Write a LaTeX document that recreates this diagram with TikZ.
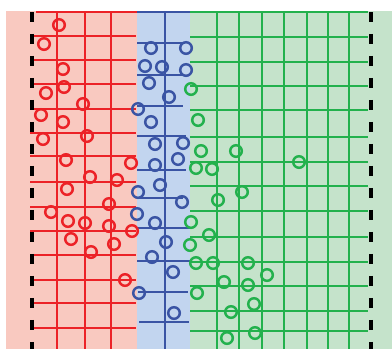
\documentclass[tikz,border=0pt]{standalone}
\usepackage{xcolor}
\usepackage{tikz}
\definecolor{redfill}{HTML}{F9C9C0}
\definecolor{redline}{HTML}{EC2227}
\definecolor{bluefill}{HTML}{C2D5EF}
\definecolor{blueline}{HTML}{3A54A4}
\definecolor{greenfill}{HTML}{C5E3CB}
\definecolor{greenline}{HTML}{23B14D}

\begin{document}
\begin{tikzpicture}[
        x=0.02cm, y=-0.02cm,
        grid/.style={line width=0.85pt},
        topline/.style={line width=1.6pt},
        ring/.style={line width=1.4pt},
        border/.style={line width=2pt, black, dash pattern=on 0.2cm off 0.24cm}
      ]
        \useasboundingbox (0,0) rectangle (392,349);
        % regions
        \fill[redfill]   (6,11)   rectangle (137,349);
        \fill[bluefill]  (137,11) rectangle (190,349);
        \fill[greenfill] (190,11) rectangle (392,349);
        % red grid
        \foreach \x in {57,85,111}
          \draw[grid, redline] (\x,12) -- (\x,349);
        \foreach \y in {36,60,84,109,133,156,182,207,231,255,280,303,328}
          \draw[grid, redline] (30,\y) -- (136,\y);
        % blue grid
        \draw[grid, blueline] (165,12) -- (165,349);
        \foreach \y/\a/\b in {43/137/185,75/137/183,106/137/183,136/137/186,
                              170/137/186,198/138/183,228/137/190,261/137/190,
                              292/138/188,322/139/189}
          \draw[grid, blueline] (\a,\y) -- (\b,\y);
        % green grid
        \foreach \x in {217,239,262,284,307,328,349}
          \draw[grid, greenline] (\x,12) -- (\x,349);
        \foreach \y in {37,62,86,110,137,162,186,211,237,262,286,311,331}
          \draw[grid, greenline] (190,\y) -- (368,\y);
        % particles
        \foreach \x/\y in {59/25,44/44,63/69,64/87,46/93,83/104,41/115,63/122,
                           87/136,43/139,66/160,131/163,90/177,117/180,67/189,
                           109/204,51/212,68/221,85/223,109/226,132/231,71/239,
                           114/244,91/252,125/280}
          \draw[ring, redline] (\x,\y) circle[radius=5.8];
        \foreach \x/\y in {151/48,186/48,145/66,162/67,186/70,149/83,169/97,
                           138/109,151/122,155/144,183/143,178/159,155/165,
                           160/185,138/192,182/202,137/214,155/223,166/242,
                           152/257,173/272,139/293,174/313}
          \draw[ring, blueline] (\x,\y) circle[radius=5.8];
        \foreach \x/\y in {191/89,198/120,201/151,236/151,196/168,212/169,
                           299/162,242/192,218/200,191/222,209/235,190/245,
                           196/263,213/263,248/263,224/282,248/285,267/275,
                           197/293,254/304,231/312,227/338,255/333}
          \draw[ring, greenline] (\x,\y) circle[radius=5.8];
        % boundaries
        \draw[border] (32,12) -- (32,349);
        \draw[border] (371,12) -- (371,349);
        \draw[topline, redline]   (36,12)  -- (137,12);
        \draw[topline, blueline]  (137,12) -- (190,12);
        \draw[topline, greenline] (190,12) -- (368,12);
      \end{tikzpicture}
\end{document}
